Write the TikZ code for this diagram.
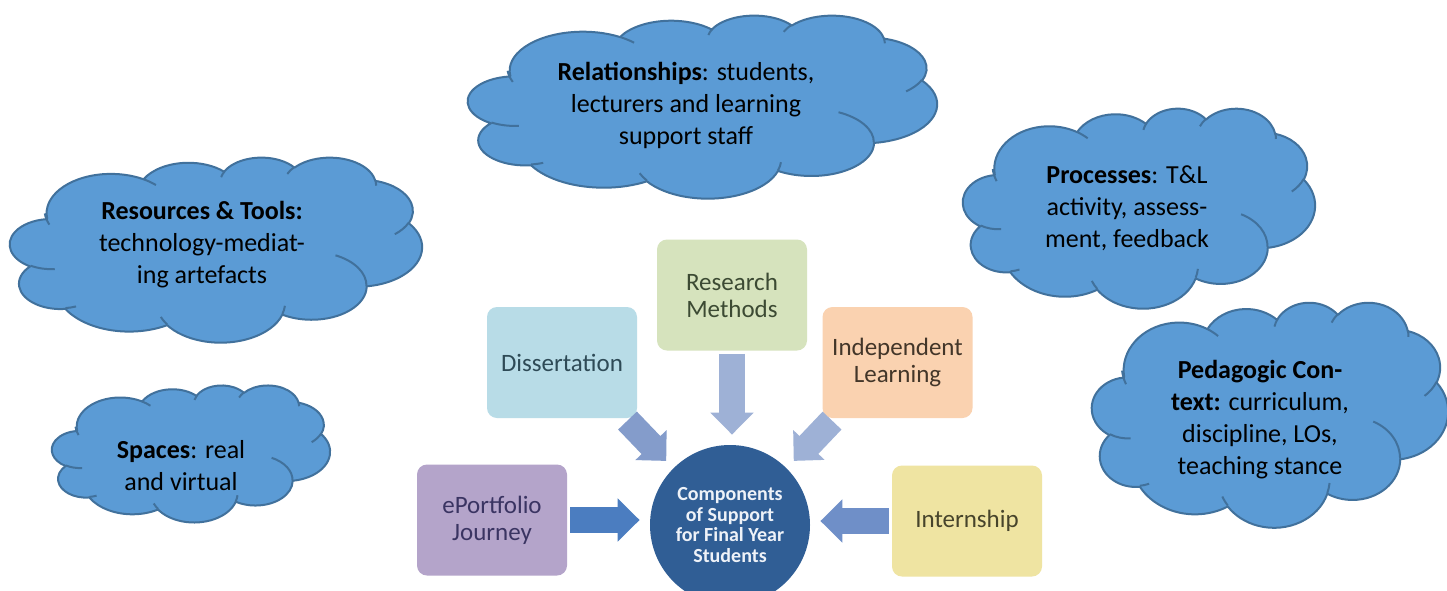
\documentclass[tikz,border=0pt]{standalone}
\usepackage{fontspec}
\setmainfont{Carlito}
\usetikzlibrary{arrows.meta}
\definecolor{cloudfill}{HTML}{5B9BD5}
\definecolor{cloudline}{HTML}{41719C}
\definecolor{dissfill}{HTML}{B8DCE7}
\definecolor{disstext}{HTML}{2E4A56}
\definecolor{rmfill}{HTML}{D6E3BD}
\definecolor{rmtext}{HTML}{3C4A33}
\definecolor{ilfill}{HTML}{FAD2B0}
\definecolor{iltext}{HTML}{433629}
\definecolor{portfill}{HTML}{B4A4CA}
\definecolor{porttext}{HTML}{3A3462}
\definecolor{internfill}{HTML}{EFE4A2}
\definecolor{interntext}{HTML}{47442B}
\definecolor{corefill}{HTML}{305E95}
\definecolor{coretext}{HTML}{EEF2F8}
\definecolor{lightflow}{HTML}{9EB1D6}
\definecolor{midflow}{HTML}{849CCB}
\definecolor{darkflow}{HTML}{4B7DC0}
\definecolor{sideflow}{HTML}{6F8FC8}

\tikzset{
  declare function={vis(\ang,\rx,\ry)=\ang+Mod(atan2(\rx*sin(\ang),\ry*cos(\ang))-\ang+180,360)-180;},
  puffline/.style={draw=cloudline, line width=1pt, line join=round},
  part/.style={rounded corners=5pt, minimum width=75pt, minimum height=55.5pt,
    align=center, font=\fontsize{12.5}{13.5}\selectfont},
  saying/.style={align=center, font=\fontsize{13}{16}\selectfont},
  flow/.style={line width=13pt, -{Triangle[length=11pt 0,width=21pt 0]},
    shorten <=1.5pt, shorten >=5pt}
}
% one puff of the cloud outline: rx, ry, start, sweep
\newcommand\puff[4]{arc[start angle={vis(#3,#1,#2)}, end angle={vis(#3+#4,#1,#2)}, x radius=#1, y radius=#2]}
% cloud: left, top, width, height
\newcommand\wordcloud[4]{%
\begin{scope}[shift={(#1,#2)}, xscale=#3/432, yscale=#4/432]
\filldraw[puffline, fill=cloudfill] (39.00,143.70)
  \puff{67.53}{91.90}{-190.4875}{123.7805}
  \puff{53.33}{72.67}{-144.1024}{89.9452}
  \puff{43.65}{59.45}{-145.8079}{99.7230}
  \puff{48.57}{65.95}{-130.9861}{117.2417}
  \puff{53.33}{72.73}{-78.7089}{109.0269}
  \puff{67.75}{92.20}{-46.2673}{130.2690}
  \puff{57.85}{78.67}{0.6250}{114.0333}
  \puff{67.52}{92.15}{22.4516}{115.1726}
  \puff{77.20}{105.43}{66.2426}{75.7110}
  \puff{43.60}{59.18}{-274.9421}{146.7356}
  \puff{43.45}{59.45}{-246.8285}{152.5189} -- cycle;
\draw[puffline]
  (46.93,261.77) \puff{43.45}{59.45}{86.7420}{26.4295}
  (69.28,348.99) \puff{43.60}{59.18}{73.6105}{11.4475}
  (164.78,390.90) \puff{67.52}{92.15}{137.6242}{14.0811}
  (288.27,347.51) \puff{67.52}{92.15}{6.4533}{15.9984}
  (341.29,229.54) \puff{57.85}{78.67}{-70.2924}{70.9174}
  (417.98,153.54) \puff{53.33}{72.73}{30.3180}{27.7515}
  (383.24,54.26) \puff{48.57}{65.95}{-13.7443}{14.8589}
  (290.78,39.52) \puff{48.57}{65.95}{-149.1815}{18.1954}
  (221.41,47.20) \puff{43.65}{59.45}{-163.4943}{17.6864}
  (140.00,51.92) \puff{67.53}{91.90}{-66.7070}{12.3194}
  (41.27,157.89) \puff{67.53}{91.90}{150.7889}{21.7249};
\end{scope}}

\begin{document}
\begin{tikzpicture}[x=0.5pt,y=-0.5pt]
\clip (0,0) rectangle (1447,590);
\fill[white] (0,0) rectangle (1447,590);

% the clouds
\wordcloud{1092}{302}{356}{225}
\wordcloud{963}{108}{352}{200}
\wordcloud{468}{15}{469}{183}
\wordcloud{10}{157}{412}{185}
\wordcloud{52}{385}{278}{137}
\path (686,105) node(rel)[saying]{\textbf{Relationships}: students,\\lecturers and learning\\support staff}
  (202,245) node(res)[saying]{\textbf{Resources \& Tools:}\\technology-mediat-\\ing artefacts}
  (1127,208) node(proc)[saying]{\textbf{Processes}: T\&L\\activity, assess-\\ment, feedback}
  (1260,420) node(ped)[saying]{\textbf{Pedagogic Con-}\\\textbf{text:} curriculum,\\discipline, LOs,\\teaching stance}
  (181,466) node(spc)[saying]{\textbf{Spaces}: real\\and virtual};

% the components
\path (562,362.5) node(diss)[part, fill=dissfill, text=disstext]{Dissertation}
  (732,295) node(rm)[part, fill=rmfill, text=rmtext]{Research\\Methods}
  (897.5,362.5) node(il)[part, fill=ilfill, text=iltext]{Independent\\Learning}
  (492,520) node(port)[part, fill=portfill, text=porttext]{ePortfolio\\Journey}
  (967,521) node(intern)[part, fill=internfill, text=interntext]{Internship}
  (730,525) node(core)[circle, fill=corefill, text=coretext, minimum size=80pt, inner sep=0pt,
    align=center, font=\fontsize{10}{10.4}\selectfont\bfseries]{Components\\of Support\\for Final Year\\Students};

\draw[flow, draw=darkflow] (port.east) -- (port.east -| core.west);
\draw[flow, draw=sideflow] (intern.west) -- (intern.west -| core.east);
\draw[flow, draw=lightflow] (rm.south) -- (rm.south |- core.north);
\draw[flow, draw=midflow] ([xshift=-6pt]diss.south east) -- (core.135);
\draw[flow, draw=lightflow] ([xshift=6pt]il.south west) -- (core.45);
\end{tikzpicture}
\end{document}
